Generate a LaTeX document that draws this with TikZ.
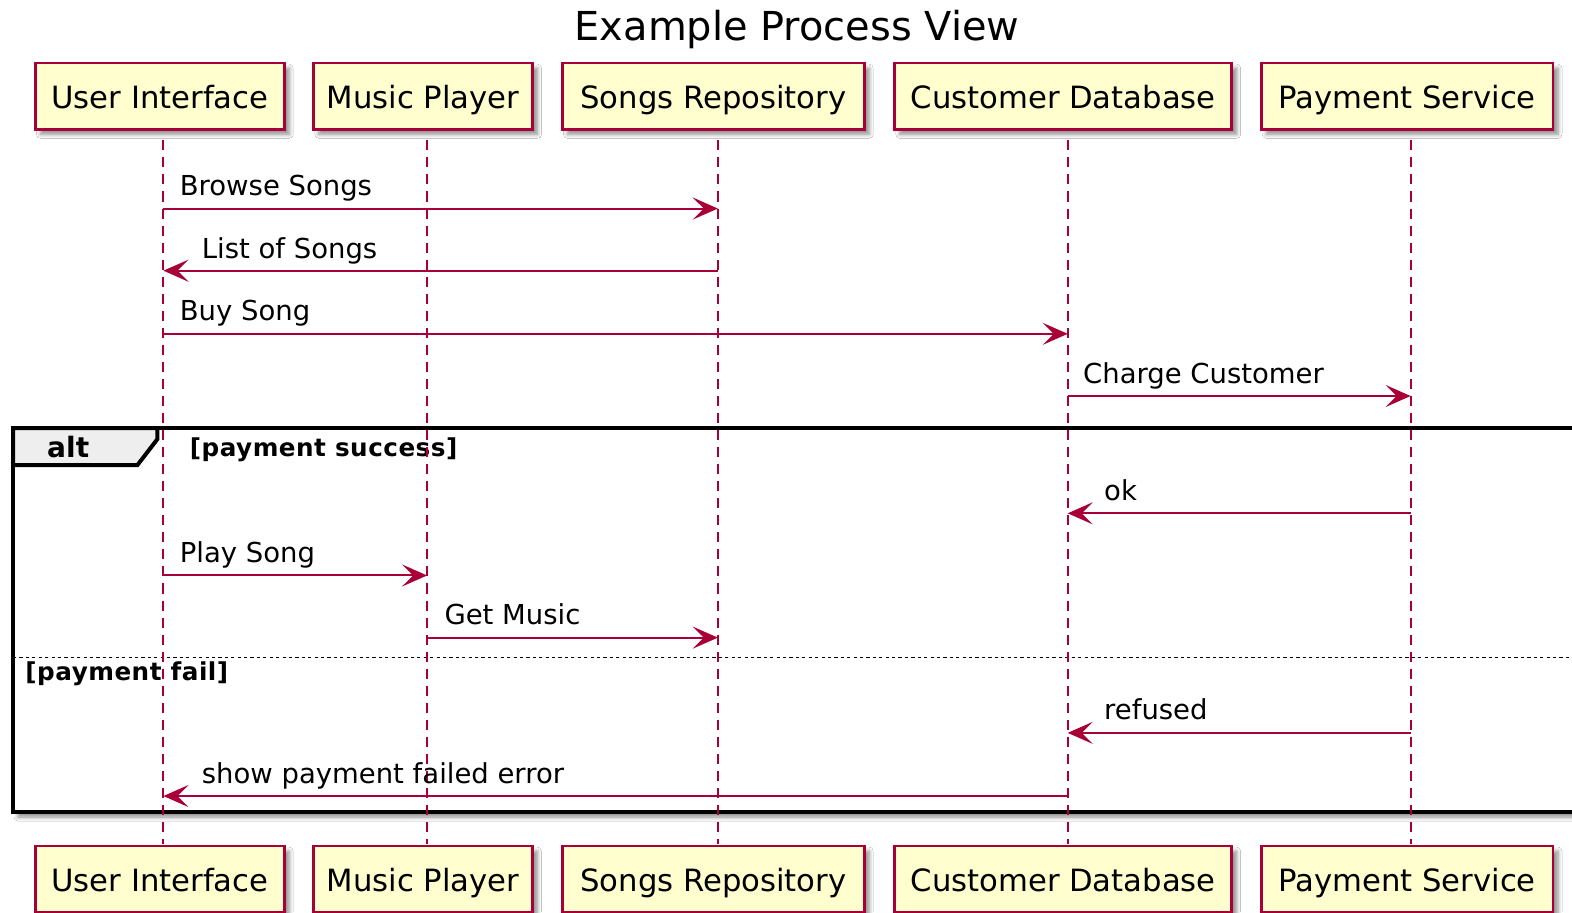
\documentclass[tikz,border=0pt]{standalone}
\usepackage{fontspec}
\setmainfont{DejaVu Sans}
\usetikzlibrary{arrows.meta,shadows.blur}
\definecolor{umlred}{HTML}{A80036}
\definecolor{umlbox}{HTML}{FEFECE}
\definecolor{umltab}{HTML}{EEEEEE}

\tikzset{
  part/.style={draw=umlred, fill=umlbox, line width=1.3pt, inner sep=0pt,
    minimum height=33pt, text height=15pt, text depth=3pt,
    font=\fontsize{15.3}{18}\selectfont,
    blur shadow={shadow xshift=2.5pt, shadow yshift=-2.5pt,
      shadow blur radius=2pt, shadow blur steps=6, shadow opacity=45}},
  life/.style={draw=umlred, line width=1pt, dash pattern=on 5pt off 3.5pt},
  msg/.style={draw=umlred, line width=1pt,
    -{Stealth[length=12.5pt,width=11pt,inset=5.5pt]}},
  msglabel/.style={anchor=base west, inner sep=0pt,
    font=\fontsize{13.7}{16}\selectfont},
  frameline/.style={line width=2pt, draw=black},
  guard/.style={anchor=base west, inner sep=0pt,
    font=\bfseries\fontsize{12.3}{15}\selectfont\addfontfeatures{LetterSpace=2}},
}

\begin{document}
\begin{tikzpicture}[x=0.5pt, y=-0.5pt]
\useasboundingbox (0,0) rectangle (1568,910);
\fill[white] (0,0) rectangle (1568,910);

% title
\node[anchor=base, inner sep=0pt, font=\fontsize{19.9}{24}\selectfont]
  (title) at (795,40) {Example Process View};

% alt frame (behind the lifelines)
\draw[frameline, fill=white,
  blur shadow={shadow xshift=2.5pt, shadow yshift=-2.5pt,
    shadow blur radius=2pt, shadow blur steps=6, shadow opacity=45}]
  (13,427) rectangle (1600,810);
\draw[frameline, fill=umltab, line join=miter]
  (13,427) -- (157,427) -- (157,438) -- (137,464) -- (13,464) -- cycle;
\node[anchor=base, inner sep=0pt, font=\bfseries\fontsize{14}{17}\selectfont]
  (altlabel) at (68,456) {alt};
\node[guard] (g1) at (189,455) {[payment success]};
\draw[line width=0.8pt, dash pattern=on 1.6pt off 1.6pt] (13,656) -- (1600,656);
\node[guard] (g2) at (25,679) {[payment fail]};

% lifeline ends
\coordinate (Lui) at (163,140);  \coordinate (Luib) at (163,842);
\coordinate (Lmp) at (426,140);  \coordinate (Lmpb) at (426,842);
\coordinate (Lsr) at (716,140);  \coordinate (Lsrb) at (716,842);
\coordinate (Lcd) at (1065,140); \coordinate (Lcdb) at (1065,842);
\coordinate (Lps) at (1407,140); \coordinate (Lpsb) at (1407,842);

\foreach \a/\b in {Lui/Luib, Lmp/Lmpb, Lsr/Lsrb, Lcd/Lcdb, Lps/Lpsb}
  \draw[life] (\a) -- (\b);

% participants, top and bottom
\node[part, minimum width=124pt]   (ui)  at (159.5,96) {User Interface};
\node[part, minimum width=109pt]   (mp)  at (422,96)   {Music Player};
\node[part, minimum width=150.5pt] (sr)  at (711.5,96) {Songs Repository};
\node[part, minimum width=168pt]   (cd)  at (1060.5,96) {Customer Database};
\node[part, minimum width=145.5pt] (ps)  at (1403.5,96) {Payment Service};

\node[part, minimum width=124pt]   (uib) at (159.5,877) {User Interface};
\node[part, minimum width=109pt]   (mpb) at (422,877)   {Music Player};
\node[part, minimum width=150.5pt] (srb) at (711.5,877) {Songs Repository};
\node[part, minimum width=168pt]   (cdb) at (1060.5,877) {Customer Database};
\node[part, minimum width=145.5pt] (psb) at (1403.5,877) {Payment Service};

% message rows
\coordinate (r1) at (0,208);
\coordinate (r2) at (0,270);
\coordinate (r3) at (0,333);
\coordinate (r4) at (0,395);
\coordinate (r5) at (0,512);
\coordinate (r6) at (0,574);
\coordinate (r7) at (0,636);
\coordinate (r8) at (0,731);
\coordinate (r9) at (0,794);

\draw[msg] (Lui |- r1) -- (Lsr |- r1);
\node[msglabel] (m1) at (179,195) {Browse Songs};
\draw[msg] (Lsr |- r2) -- (Lui |- r2);
\node[msglabel] (m2) at (201,258) {List of Songs};
\draw[msg] (Lui |- r3) -- (Lcd |- r3);
\node[msglabel] (m3) at (179,320) {Buy Song};
\draw[msg] (Lcd |- r4) -- (Lps |- r4);
\node[msglabel] (m4) at (1080,383) {Charge Customer};
\draw[msg] (Lps |- r5) -- (Lcd |- r5);
\node[msglabel] (m5) at (1101,499) {ok};
\draw[msg] (Lui |- r6) -- (Lmp |- r6);
\node[msglabel] (m6) at (179,561) {Play Song};
\draw[msg] (Lmp |- r7) -- (Lsr |- r7);
\node[msglabel] (m7) at (443,623) {Get Music};
\draw[msg] (Lps |- r8) -- (Lcd |- r8);
\node[msglabel] (m8) at (1101,718) {refused};
\draw[msg] (Lcd |- r9) -- (Lui |- r9);
\node[msglabel] (m9) at (201,781) {show payment failed error};
\end{tikzpicture}
\end{document}
